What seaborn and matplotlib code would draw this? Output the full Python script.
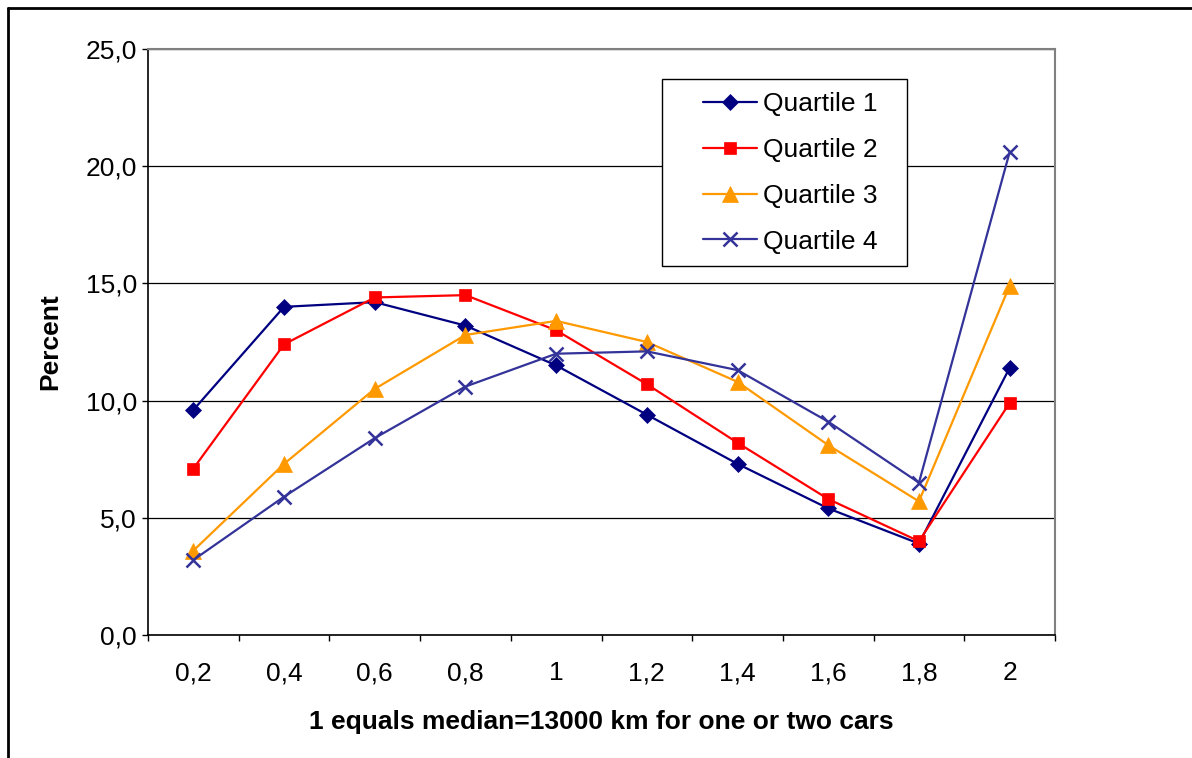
import matplotlib
matplotlib.use("Agg")
import matplotlib.pyplot as plt
from matplotlib.lines import Line2D
from matplotlib.patches import Rectangle
import seaborn as sns
import pandas as pd

categories = ["0,2", "0,4", "0,6", "0,8", "1", "1,2", "1,4", "1,6", "1,8", "2"]
quartile1 = [9.6, 14.0, 14.2, 13.2, 11.5, 9.4, 7.3, 5.4, 3.9, 11.4]
quartile2 = [7.1, 12.4, 14.4, 14.5, 13.0, 10.7, 8.2, 5.8, 4.0, 9.9]
quartile3 = [3.6, 7.3, 10.5, 12.8, 13.4, 12.5, 10.8, 8.1, 5.7, 14.9]
quartile4 = [3.2, 5.9, 8.4, 10.6, 12.0, 12.1, 11.3, 9.1, 6.5, 20.6]
series_names = ["Quartile 1", "Quartile 2", "Quartile 3", "Quartile 4"]
y_ticks = [0, 5, 10, 15, 20, 25]
x_label = "1 equals median=13000 km for one or two cars"
y_label = "Percent"

colors = {"Quartile 1": "#000080", "Quartile 2": "#FF0000",
          "Quartile 3": "#FF9900", "Quartile 4": "#333399"}
markers = {"Quartile 1": "D", "Quartile 2": "s", "Quartile 3": "^", "Quartile 4": "x"}
msizes = {"Quartile 1": 8, "Quartile 2": 9, "Quartile 3": 11, "Quartile 4": 10}

rows = []
for name, vals in zip(series_names, [quartile1, quartile2, quartile3, quartile4]):
    for i, v in enumerate(vals):
        rows.append({"pos": i, "value": v, "series": name})
df = pd.DataFrame(rows)

sns.set_theme(style="white")
plt.rcParams["font.family"] = ["Liberation Sans", "DejaVu Sans"]
plt.rcParams["text.color"] = "black"
plt.rcParams["axes.labelcolor"] = "black"
plt.rcParams["xtick.color"] = "black"
plt.rcParams["ytick.color"] = "black"

FS = 19
W, H = 1192, 758

fig = plt.figure(figsize=(W / 100, H / 100), dpi=100)
ax = fig.add_axes([148 / W, 1 - 635 / H, (1055 - 148) / W, (635 - 49) / H])

for name in series_names:
    sub = df[df["series"] == name]
    sns.lineplot(data=sub, x="pos", y="value", ax=ax, color=colors[name],
                 marker=markers[name], markersize=msizes[name],
                 markeredgecolor=colors[name],
                 markeredgewidth=1.8 if name == "Quartile 4" else 0.5,
                 linewidth=1.6, label=name, legend=False)

ax.set_xlim(-0.5, len(categories) - 0.5)
ax.set_ylim(0, 25)
ax.set_yticks(y_ticks)
ax.set_yticklabels([f"{t:.1f}".replace(".", ",") for t in y_ticks], fontsize=FS)
ax.set_xticks([i - 0.5 for i in range(len(categories) + 1)])
ax.set_xticklabels([])
ax.set_xticks(list(range(len(categories))), minor=True)
ax.set_xticklabels(categories, minor=True, fontsize=FS)
ax.tick_params(axis="x", which="major", direction="out", length=4.5, width=1, color="black", bottom=True)
ax.tick_params(axis="x", which="minor", length=0, pad=19)
ax.tick_params(axis="y", direction="out", length=4.5, width=1, color="black", left=True, pad=3.5)

ax.yaxis.grid(True, color="black", linewidth=0.9)
ax.set_axisbelow(True)
for s in ["left", "bottom"]:
    ax.spines[s].set_color("black")
    ax.spines[s].set_linewidth(1.2)
for s in ["top", "right"]:
    ax.spines[s].set_color("#808080")
    ax.spines[s].set_linewidth(1.5)

ax.set_xlabel(x_label, fontsize=FS, fontweight="bold", labelpad=18)
ax.set_ylabel(y_label, fontsize=FS, fontweight="bold", labelpad=17)

# legend frame (opaque white box with black border)
ax.add_patch(Rectangle((662 / W, 1 - 266 / H), (907 - 662) / W, (266 - 79) / H,
                       transform=fig.transFigure, facecolor="white", edgecolor="black",
                       linewidth=1.0, zorder=4.5, clip_on=False))

handles = [Line2D([0], [0], color=colors[n], marker=markers[n], markersize=msizes[n],
                  markeredgecolor=colors[n],
                  markeredgewidth=1.8 if n == "Quartile 4" else 0.5, linewidth=1.6)
           for n in series_names]
leg = ax.legend(handles, series_names, loc="upper left",
                bbox_to_anchor=(703 / W, 1 - 92 / H), bbox_transform=fig.transFigure,
                fontsize=FS, frameon=False, handlelength=2.05,
                borderpad=0, labelspacing=0.83, handletextpad=0.23, borderaxespad=0)
leg.set_zorder(5)

fig.add_artist(Line2D([8 / W, 1.0], [1 - 8 / H, 1 - 8 / H], color="black", linewidth=2, transform=fig.transFigure))
fig.add_artist(Line2D([8 / W, 8 / W], [0, 1 - 8 / H], color="black", linewidth=2, transform=fig.transFigure))

fig.savefig("out.png", dpi=100)
